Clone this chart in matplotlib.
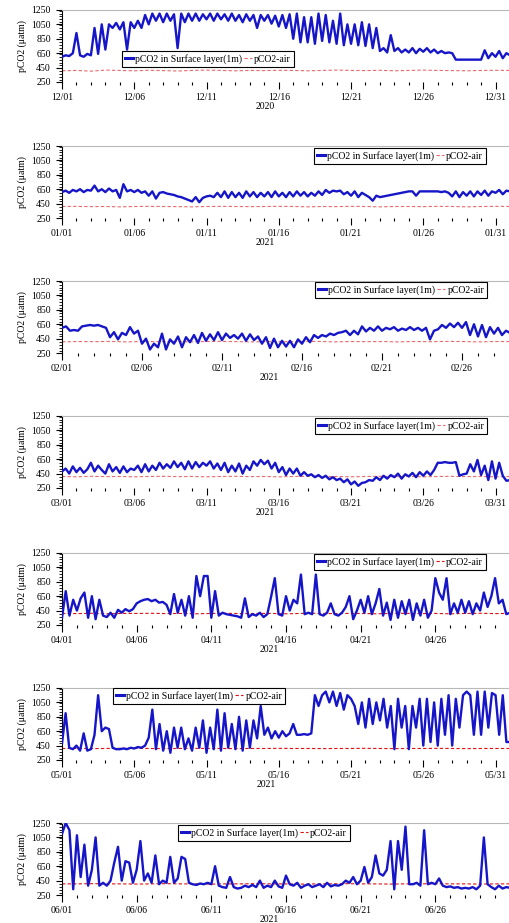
import matplotlib
matplotlib.use("Agg")
import matplotlib.pyplot as plt
import matplotlib.dates as mdates
from matplotlib.ticker import MultipleLocator
import pandas as pd

plt.rcParams["font.family"] = ["Liberation Serif", "DejaVu Serif"]

# surface pCO2 (uatm), sampled every 6 h from the first of each month
pco2_dec = [
    600, 620, 610, 650, 930, 620, 600, 640, 620, 1000, 640, 1050,
    700, 1050, 1000, 1070, 980, 1080, 700, 1080, 1000, 1100, 1000, 1180,
    1050, 1200, 1100, 1200, 1080, 1200, 1100, 1190, 720, 1200, 1080, 1200,
    1100, 1200, 1100, 1190, 1120, 1200, 1100, 1200, 1120, 1190, 1100, 1200,
    1100, 1180, 1080, 1190, 1100, 1180, 1000, 1180, 1100, 1180, 1060, 1170,
    1020, 1180, 1000, 1190, 850, 1200, 800, 1150, 800, 1150, 780, 1200,
    820, 1180, 800, 1100, 780, 1200, 760, 1050, 780, 1050, 760, 1080,
    750, 1050, 720, 1000, 680, 720, 660, 900, 680, 720, 660, 700,
    660, 720, 650, 710, 670, 720, 660, 700, 650, 680, 650, 660,
    650, 560, 560, 560, 560, 560, 560, 560, 560, 690, 580, 650,
    600, 680, 580, 650, 620,
]
pco2_jan = [
    610, 630, 600, 640, 620, 650, 610, 640, 630, 700, 620, 650,
    610, 660, 620, 640, 530, 720, 620, 640, 610, 640, 600, 620,
    560, 620, 520, 600, 610, 590, 580, 570, 550, 540, 520, 500,
    480, 540, 470, 530, 550, 560, 540, 600, 540, 620, 530, 610,
    540, 600, 530, 620, 550, 610, 540, 600, 550, 610, 540, 620,
    550, 600, 540, 610, 550, 620, 560, 610, 550, 600, 560, 620,
    570, 640, 600, 630, 620, 630, 580, 610, 560, 620, 540, 600,
    570, 540, 490, 560, 540, 550, 560, 570, 580, 590, 600, 610,
    620, 620, 560, 620, 620, 620, 620, 620, 620, 610, 620, 600,
    550, 620, 540, 610, 560, 620, 550, 620, 570, 630, 560, 620,
    600, 640, 580, 630, 620,
]
pco2_feb = [
    600, 620, 560, 570, 560, 620, 630, 640, 630, 640, 620, 600,
    470, 540, 440, 530, 500, 610, 520, 560, 380, 450, 300, 380,
    330, 520, 300, 440, 380, 480, 330, 470, 400, 500, 390, 530,
    420, 510, 430, 540, 430, 520, 460, 500, 450, 520, 420, 510,
    430, 480, 380, 470, 320, 450, 330, 420, 340, 420, 330, 440,
    380, 470, 400, 500, 460, 500, 480, 520, 500, 530, 540, 560,
    500, 560, 510, 620, 550, 600, 560, 620, 560, 600, 580, 610,
    560, 590, 570, 610, 570, 600, 560, 600, 440, 560, 580, 640,
    600, 660, 610, 670, 600, 680, 500, 650, 480, 640, 470, 610,
    520, 600, 500, 560, 530,
]
pco2_mar = [
    480, 520, 450, 550, 470, 530, 460, 510, 600, 480, 560, 500,
    450, 580, 480, 540, 460, 550, 470, 520, 500, 560, 470, 580,
    480, 560, 500, 600, 520, 580, 530, 620, 540, 600, 510, 620,
    520, 610, 540, 600, 560, 620, 520, 590, 500, 600, 470, 560,
    480, 590, 450, 560, 500, 620, 560, 640, 580, 630, 520, 600,
    470, 540, 430, 520, 450, 520, 420, 470, 420, 440, 400, 430,
    390, 420, 370, 400, 360, 380, 330, 370, 300, 340, 280, 320,
    330, 360, 350, 400, 360, 420, 380, 430, 400, 450, 380, 440,
    410, 460, 400, 470, 420, 480, 430, 500, 600, 600, 610, 600,
    600, 610, 420, 440, 450, 580, 480, 640, 430, 560, 360, 620,
    380, 600, 420, 350, 360,
]
pco2_apr = [
    350, 720, 380, 600, 450, 620, 700, 350, 650, 330, 600, 380,
    360, 420, 350, 460, 420, 470, 440, 470, 550, 580, 600, 610,
    580, 600, 560, 570, 530, 400, 680, 420, 600, 380, 650, 350,
    930, 650, 930, 930, 350, 720, 380, 420, 400, 390, 380, 370,
    350, 620, 360, 400, 380, 420, 360, 400, 640, 900, 400, 380,
    650, 450, 600, 550, 950, 400, 420, 400, 950, 400, 380, 420,
    550, 400, 380, 420, 500, 650, 330, 450, 600, 420, 650, 400,
    550, 750, 380, 560, 320, 600, 350, 580, 400, 600, 320, 550,
    380, 600, 350, 450, 900, 700, 600, 900, 400, 550, 420, 600,
    420, 580, 400, 550, 450, 700, 500, 650, 900, 550, 600, 400,
    420,
]
pco2_may = [
    480, 900, 420, 400, 450, 380, 620, 380, 400, 600, 1150, 650,
    700, 680, 420, 400, 400, 410, 400, 420, 410, 430, 420, 450,
    560, 950, 400, 750, 380, 650, 350, 700, 420, 700, 400, 550,
    380, 700, 420, 800, 350, 700, 400, 950, 380, 900, 420, 750,
    400, 850, 380, 800, 420, 800, 550, 1000, 600, 700, 550, 650,
    560, 650, 580, 620, 750, 600, 600, 610, 600, 620, 1150, 1000,
    1150, 1200, 1050, 1200, 1000, 1180, 950, 1150, 1100, 1000, 750, 1050,
    700, 1100, 750, 1050, 800, 1100, 700, 1000, 400, 1100, 700, 1000,
    400, 1000, 700, 1100, 450, 1100, 500, 1050, 450, 1100, 600, 1150,
    450, 1100, 700, 1150, 1200, 1150, 600, 1200, 600, 1200, 700, 1180,
    1150, 600, 1150, 500, 500,
]
pco2_jun = [
    1100, 1250, 1150, 330, 1080, 500, 950, 380, 600, 1050, 380, 420,
    380, 450, 700, 920, 450, 720, 700, 420, 600, 1000, 450, 550,
    420, 800, 400, 450, 420, 780, 420, 480, 780, 750, 420, 400,
    390, 410, 400, 420, 400, 650, 380, 360, 350, 500, 360, 340,
    350, 380, 360, 390, 360, 450, 350, 380, 360, 450, 370, 350,
    520, 400, 380, 420, 350, 380, 400, 360, 380, 400, 360, 420,
    370, 390, 380, 400, 450, 420, 500, 400, 450, 640, 420, 500,
    800, 550, 520, 600, 1000, 330, 1000, 600, 1200, 400, 400, 420,
    380, 1150, 400, 420, 400, 480, 380, 360, 370, 350, 360, 340,
    350, 340, 360, 330, 380, 1050, 400, 360, 330, 380, 340, 360,
    350,
]

# atmospheric pCO2 (uatm), one value per day
air_dec = [405, 410, 400, 415, 410, 405, 412, 408, 402, 410, 415, 410, 405, 410, 408, 412,
           410, 405, 410, 415, 410, 408, 412, 405, 410, 415, 410, 408, 405, 410, 412, 410]
air_jan = [410, 412, 408, 410, 405, 410, 412, 410, 408, 405, 410, 412, 410, 408, 410, 412,
           410, 405, 410, 408, 412, 410, 405, 410, 410, 408, 412, 410, 405, 410, 412, 410]
air_feb = [405, 410, 408, 412, 405, 410, 408, 410, 405, 410, 412, 408, 405, 410, 408,
           410, 412, 405, 410, 408, 410, 405, 410, 408, 412, 410, 405, 410, 410]
air_mar = [410, 405, 412, 408, 410, 405, 410, 412, 408, 410, 405, 410, 412, 408, 410, 405,
           410, 412, 408, 410, 405, 410, 412, 408, 410, 405, 410, 412, 408, 410, 405, 410]
air_apr = [410, 408, 412, 405, 410, 410, 412, 408, 410, 405, 410, 412, 408, 410, 410, 405,
           410, 412, 408, 410, 410, 405, 410, 412, 408, 410, 405, 410, 412, 408, 410]
air_may = [410, 410, 408, 410, 412, 410, 410, 408, 410, 412, 410, 410, 408, 410, 410, 412,
           410, 410, 408, 410, 410, 412, 410, 408, 410, 410, 412, 410, 408, 410, 410, 410]
air_jun = [405, 405, 408, 405, 405, 402, 405, 408, 405, 405, 402, 405, 405, 408, 405, 405,
           402, 405, 405, 408, 405, 405, 402, 405, 405, 408, 405, 405, 402, 405, 405]

month_starts = ["2020-12-01", "2021-01-01", "2021-02-01", "2021-03-01",
                "2021-04-01", "2021-05-01", "2021-06-01"]
month_ends = ["2021-01-01", "2021-02-01", "2021-03-01", "2021-04-01",
              "2021-05-01", "2021-06-01", "2021-07-01"]
year_labels = ["2020", "2021", "2021", "2021", "2021", "2021", "2021"]
pco2_series = [pco2_dec, pco2_jan, pco2_feb, pco2_mar, pco2_apr, pco2_may, pco2_jun]
air_series = [air_dec, air_jan, air_feb, air_mar, air_apr, air_may, air_jun]

# legend upper-left corner (axes fraction) per panel
legend_pos = [(0.134, 0.43), (0.5625, 0.972), (0.565, 0.986), (0.565, 0.972),
              (0.5625, 0.986), (0.114, 1.0), (0.259, 0.972)]
year_x = [0.453, 0.453, 0.462, 0.453, 0.462, 0.455, 0.462]
# bottoms of the 7 panels in figure fraction
bottoms = [0.9112, 0.7638, 0.6175, 0.4713, 0.3229, 0.1766, 0.0303]

W, H = 510, 923
fig = plt.figure(figsize=(W / 100, H / 100), dpi=100)

blue = "#1616c8"
for i in range(7):
    ax = fig.add_axes([62 / W, bottoms[i], (W - 62) / W, 72 / H])
    t = pd.date_range(month_starts[i], periods=len(pco2_series[i]), freq="6h")
    ta = pd.date_range(month_starts[i], periods=len(air_series[i]), freq="D")
    ax.plot(t, pco2_series[i], color=blue, lw=1.7, label="pCO2 in Surface layer(1m)", zorder=3)
    air_color = "#e86a6a" if i < 4 else "#e01010"
    ax.plot(ta, air_series[i], color=air_color, lw=0.8, ls=(0, (3, 2)), label="pCO2-air", zorder=2)

    start, end = pd.Timestamp(month_starts[i]), pd.Timestamp(month_ends[i])
    ax.set_xlim(start, end)
    ax.set_ylim(250, 1250)
    ax.set_yticks([250, 450, 650, 850, 1050, 1250])
    ax.yaxis.set_minor_locator(MultipleLocator(40))
    days = pd.date_range(start, end - pd.Timedelta(days=1), freq="D")
    ax.set_xticks(days[::5])
    ax.set_xticks(days, minor=True)
    ax.xaxis.set_major_formatter(mdates.DateFormatter("%m/%d"))

    ax.tick_params(axis="y", which="major", direction="out", length=4, width=0.8, pad=4, labelsize=7)
    ax.tick_params(axis="y", which="minor", direction="out", length=2, width=0.6)
    ax.tick_params(axis="x", which="major", direction="out", length=5, width=0.8, pad=3, labelsize=7)
    ax.tick_params(axis="x", which="minor", direction="out", length=2.5, width=0.8)

    ax.spines["top"].set_color("#b8b8b8")
    ax.spines["top"].set_linewidth(0.8)
    ax.spines["right"].set_visible(False)
    ax.spines["bottom"].set_visible(False)
    ax.spines["left"].set_linewidth(0.8)

    ax.set_ylabel("pCO2 (μatm)", fontsize=7, labelpad=3)
    ax.text(year_x[i], -0.34, year_labels[i], transform=ax.transAxes, fontsize=7,
            ha="center", va="center")

    leg = ax.legend(loc="upper left", bbox_to_anchor=legend_pos[i], ncol=2, fontsize=7,
                    frameon=True, fancybox=False, framealpha=1, edgecolor="black",
                    borderpad=0.3, handlelength=0.8, handletextpad=0.25,
                    columnspacing=0.2, borderaxespad=0)
    leg.get_frame().set_linewidth(0.8)
    leg.get_lines()[0].set_linewidth(2.2)
    leg.set_zorder(5)

fig.savefig("out.png", dpi=100)
